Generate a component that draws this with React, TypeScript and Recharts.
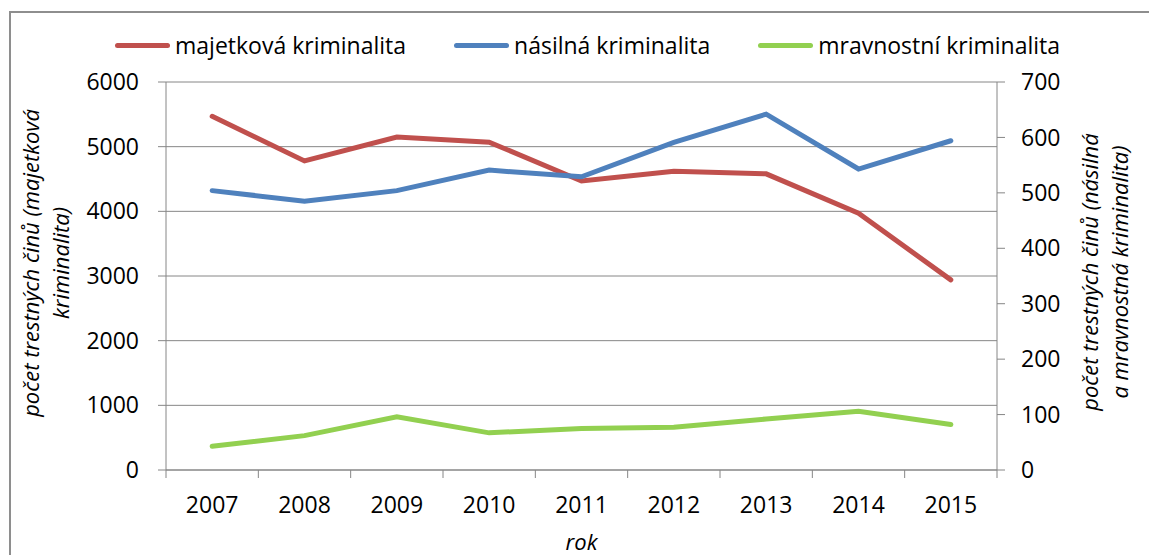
import React from 'react';
import { LineChart, Line, XAxis, YAxis, CartesianGrid, Label } from 'recharts';

// roky a hodnoty
const years = ['2007', '2008', '2009', '2010', '2011', '2012', '2013', '2014', '2015'];
const majetkova = [5470, 4780, 5150, 5070, 4470, 4620, 4580, 3970, 2940];
const nasilna = [504, 485, 504, 541, 529, 591, 642, 543, 594];
const mravnostni = [43, 62, 96, 67, 75, 77, 92, 106, 82];
const leftTicks = [0, 1000, 2000, 3000, 4000, 5000, 6000];
const rightTicks = [0, 100, 200, 300, 400, 500, 600, 700];

const C = { red: '#C0504D', blue: '#4F81BD', green: '#92D050', grid: '#868686', text: '#000' };
const FONT = '"Open Sans", sans-serif';

const W = 1149;
const H = 555;
const PLOT_W = 831;
const HALF_BAND = PLOT_W / years.length / 2;

const data = years.map((y, i) => ({
  rok: y,
  majetkova: majetkova[i],
  nasilna: nasilna[i],
  mravnostni: mravnostni[i],
}));

const legendItems = [
  { name: 'majetková kriminalita', color: C.red },
  { name: 'násilná kriminalita', color: C.blue },
  { name: 'mravnostní kriminalita', color: C.green },
];

// Excel style: labels at category centre, tick marks between categories
function YearTick(props: any) {
  const { x, y, payload, index } = props;
  const half = HALF_BAND;
  const axisY = y - 27;
  return (
    <g>
      <line x1={x - half} x2={x - half} y1={axisY} y2={axisY + 8} stroke={C.grid} strokeWidth={1} />
      {index === years.length - 1 && (
        <line x1={x + half} x2={x + half} y1={axisY} y2={axisY + 8} stroke={C.grid} strokeWidth={1} />
      )}
      <text x={x} y={y} dy="0.71em" textAnchor="middle" fill={C.text} fontSize={23} fontFamily={FONT}>
        {payload.value}
      </text>
    </g>
  );
}

function TwoLineTitle({ lines, cx, cy }: any) {
  return (
    <text
      transform={`rotate(-90, ${cx}, ${cy})`}
      x={cx}
      y={cy}
      textAnchor="middle"
      fill={C.text}
      fontSize={22}
      fontStyle="italic"
      fontFamily={FONT}
    >
      {lines.map((l: string, i: number) => (
        <tspan key={i} x={cx} dy={i === 0 ? '0.35em' : 30}>{l}</tspan>
      ))}
    </text>
  );
}

export default function App() {
  return (
    <div style={{ position: 'absolute', left: 0, top: 0, width: W, height: H, overflow: 'hidden', background: '#fff' }}>
      {/* chart frame, runs off the right and bottom edge */}
      <div style={{
        position: 'absolute', left: 9, top: 11, width: 1200, height: 600,
        borderLeft: '2px solid #8e8e8e', borderTop: '2px solid #8e8e8e',
      }} />

      {/* Legend */}
      <div style={{
        position: 'absolute', left: 115, top: 30, height: 30,
        display: 'flex', alignItems: 'center', gap: 48,
        fontFamily: FONT, fontSize: 23, color: C.text,
      }}>
        {legendItems.map(it => (
          <div key={it.name} style={{ display: 'flex', alignItems: 'center', gap: 5 }}>
            <div style={{ width: 55, height: 5, borderRadius: 3, background: it.color }} />
            <span style={{ whiteSpace: 'nowrap' }}>{it.name}</span>
          </div>
        ))}
      </div>

      <div style={{ position: 'absolute', left: 0, top: 0 }}>
        <LineChart width={W} height={H} data={data} margin={{ top: 82, right: 92, bottom: 55, left: 106 }}>
          <CartesianGrid yAxisId="left" vertical={false} stroke={C.grid} strokeWidth={1} />
          <XAxis
            dataKey="rok"
            height={30}
            padding={{ left: HALF_BAND, right: HALF_BAND }}
            axisLine={{ stroke: C.grid }}
            tickLine={false}
            tickSize={8}
            tickMargin={19}
            interval={0}
            tick={<YearTick />}
          >
            <Label
              content={({ viewBox }: any) => (
                <text
                  x={viewBox.x + viewBox.width / 2}
                  y={viewBox.y + 80}
                  textAnchor="middle"
                  fill={C.text}
                  fontSize={22}
                  fontStyle="italic"
                  fontFamily={FONT}
                >
                  rok
                </text>
              )}
            />
          </XAxis>
          <YAxis
            yAxisId="left"
            width={60}
            domain={[0, 6000]}
            ticks={leftTicks}
            interval={0}
            axisLine={{ stroke: C.grid }}
            tickLine={{ stroke: C.grid }}
            tickSize={8}
            tickMargin={19}
            tick={{ fill: C.text, fontSize: 23, fontFamily: FONT }}
          >
            <Label
              content={() => (
                <TwoLineTitle cx={31} cy={263} lines={['počet trestných činů (majetková', 'kriminalita)']} />
              )}
            />
          </YAxis>
          <YAxis
            yAxisId="right"
            orientation="right"
            width={60}
            domain={[0, 700]}
            ticks={rightTicks}
            interval={0}
            axisLine={{ stroke: C.grid }}
            tickLine={{ stroke: C.grid }}
            tickSize={8}
            tickMargin={16}
            tick={{ fill: C.text, fontSize: 23, fontFamily: FONT, textAnchor: 'start' }}
          >
            <Label
              content={() => (
                <TwoLineTitle cx={1090} cy={272} lines={['počet trestných činů (násilná', 'a mravnostná kriminalita)']} />
              )}
            />
          </YAxis>
          <Line yAxisId="left" type="linear" dataKey="majetkova" name="majetková kriminalita" stroke={C.red} strokeWidth={5} strokeLinecap="round" dot={false} isAnimationActive={false} />
          <Line yAxisId="right" type="linear" dataKey="nasilna" name="násilná kriminalita" stroke={C.blue} strokeWidth={5} strokeLinecap="round" dot={false} isAnimationActive={false} />
          <Line yAxisId="right" type="linear" dataKey="mravnostni" name="mravnostní kriminalita" stroke={C.green} strokeWidth={5} strokeLinecap="round" dot={false} isAnimationActive={false} />
        </LineChart>
      </div>
    </div>
  );
}
